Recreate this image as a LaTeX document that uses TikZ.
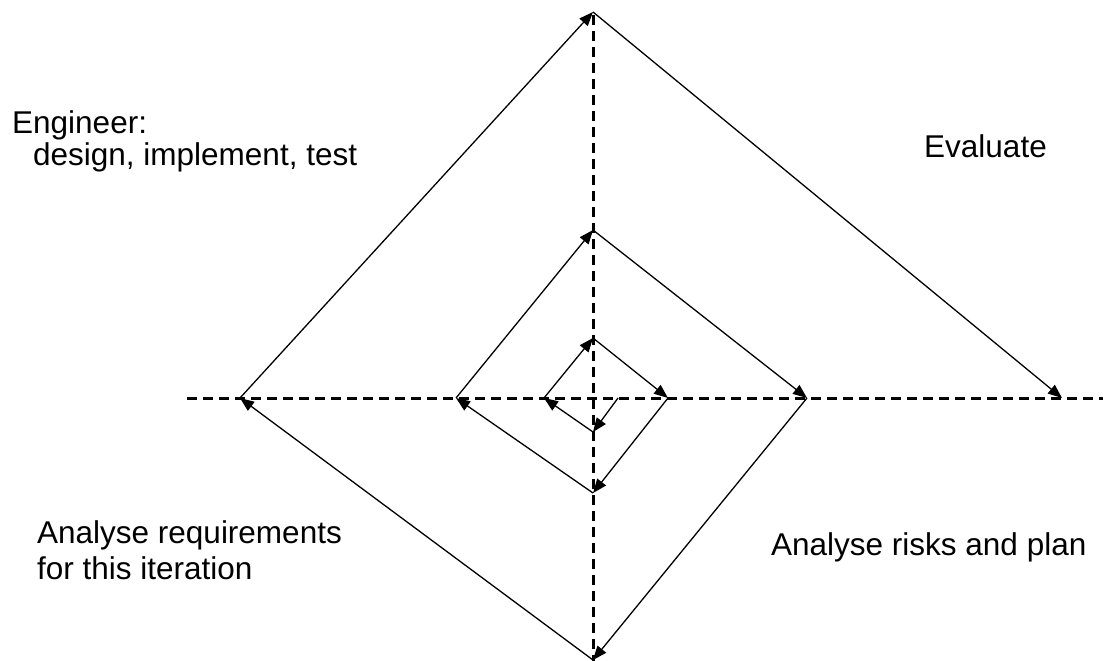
\documentclass[tikz,border=0pt]{standalone}
\usepackage{fontspec}
\setmainfont{Liberation Sans}
\usetikzlibrary{arrows.meta}
\begin{document}
\begin{tikzpicture}[x=1pt,y=-1pt,
  axis/.style={line width=3pt,dash pattern=on 10pt off 6pt},
  seg/.style={line width=1.3pt,-{Triangle[length=14pt,width=11pt]}},
  lbl/.style={anchor=base west,inner sep=0pt,font=\fontsize{31.5}{36}\selectfont}]
\useasboundingbox (0,0) rectangle (1103,661);
% axes
\coordinate (vt) at (593,15);
\coordinate (vb) at (593,661);
\coordinate (hl) at (187,398);
\coordinate (hr) at (1103,398);
\draw[axis] (vt) -- (vb);
\draw[axis] (hl) -- (hr);
% spiral vertices
\coordinate (s0) at (618,398);
\coordinate (s1) at (593,432);
\coordinate (s2) at (544,398);
\coordinate (s3) at (593,338);
\coordinate (s4) at (668,398);
\coordinate (s5) at (593,493);
\coordinate (s6) at (456,398);
\coordinate (s7) at (593,230);
\coordinate (s8) at (807,398);
\coordinate (s9) at (593,660);
\coordinate (s10) at (240,398);
\coordinate (s11) at (593,12);
\coordinate (s12) at (1062,398);
\draw[seg] (s0) -- (s1);
\draw[seg] (s1) -- (s2);
\draw[seg] (s2) -- (s3);
\draw[seg] (s3) -- (s4);
\draw[seg] (s4) -- (s5);
\draw[seg] (s5) -- (s6);
\draw[seg] (s6) -- (s7);
\draw[seg] (s7) -- (s8);
\draw[seg] (s8) -- (s9);
\draw[seg] (s9) -- (s10);
\draw[seg] (s10) -- (s11);
\draw[seg] (s11) -- (s12);
% labels
\node[lbl] (eng) at (12,133) {Engineer:};
\node[lbl] (dit) at (33,165) {design, implement, test};
\node[lbl] (eval) at (924,157) {Evaluate};
\node[lbl] (ar1) at (37,543) {Analyse requirements};
\node[lbl] (ar2) at (37,579) {for this iteration};
\node[lbl] (arp) at (771,555) {Analyse risks and plan};
\end{tikzpicture}
\end{document}
